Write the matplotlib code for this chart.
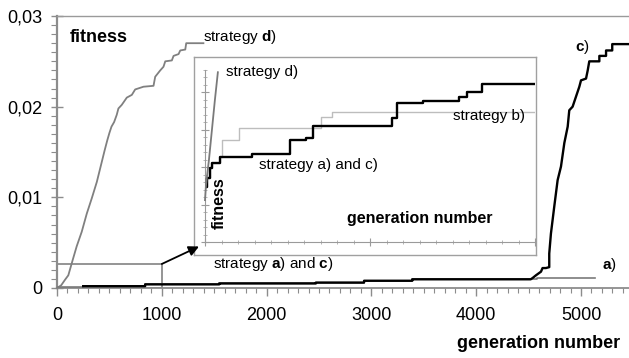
import matplotlib
matplotlib.use("Agg")
import matplotlib.pyplot as plt
from matplotlib.ticker import MultipleLocator, FixedLocator, NullFormatter
from matplotlib.patches import Rectangle

plt.rcParams['font.family'] = ['Liberation Sans', 'DejaVu Sans']
plt.rcParams['mathtext.fontset'] = 'custom'
plt.rcParams['mathtext.rm'] = 'Liberation Sans'
plt.rcParams['mathtext.bf'] = 'Liberation Sans:bold'

# ---------------- main chart data ----------------
d_gen = [0, 40, 76, 108, 150, 188, 236, 284, 332, 380, 425, 455, 480, 500, 520, 545, 570,
         586, 618, 666, 714, 746, 825, 921, 937, 985, 1016, 1033, 1096, 1112, 1160, 1176,
         1224, 1233, 1397]
d_fit = [0, 0.0003, 0.0009, 0.0014, 0.0031, 0.0046, 0.0062, 0.0082, 0.0099, 0.0117, 0.0138,
         0.0152, 0.0163, 0.0171, 0.0178, 0.0183, 0.0191, 0.0198, 0.0202, 0.0210, 0.0213,
         0.0219, 0.0222, 0.0223, 0.0233, 0.0240, 0.0244, 0.0250, 0.0251, 0.0256, 0.0258,
         0.0262, 0.0263, 0.0270, 0.0270]

a_gen = [0, 250, 841, 1548, 2470, 2930, 3390, 4580, 5130]
a_fit = [0.0001, 0.0002, 0.0004, 0.0005, 0.0006, 0.0008, 0.00096, 0.00114, 0.00114]

c_gen = [250, 841, 841, 1548, 1548, 2470, 2470, 2930, 2930, 3390, 3390, 4520, 4538, 4570,
         4618, 4633, 4665, 4697, 4697, 4713, 4745, 4777, 4809, 4841, 4873, 4888, 4920, 4952,
         4984, 5000, 5048, 5064, 5079, 5175, 5175, 5239, 5239, 5298, 5298, 5470]
c_fit = [0.0002, 0.0002, 0.0004, 0.0004, 0.0005, 0.0005, 0.0006, 0.0006, 0.0008, 0.0008,
         0.00096, 0.00096, 0.0011, 0.0014, 0.0018, 0.0022, 0.0022, 0.0023, 0.0038, 0.0060,
         0.0090, 0.0119, 0.0134, 0.0160, 0.0178, 0.0196, 0.0200, 0.0211, 0.0222, 0.0229,
         0.0231, 0.0240, 0.0250, 0.0250, 0.0256, 0.0256, 0.0262, 0.0262, 0.0269, 0.0269]

zoom_box_gen = 1000
zoom_box_fit = 0.00265

x_ticks = [0, 1000, 2000, 3000, 4000, 5000]
x_ticklabels = ['0', '1000', '2000', '3000', '4000', '5000']
y_ticks = [0, 0.01, 0.02, 0.03]
y_ticklabels = ['0', '0,01', '0,02', '0,03']

# ---------------- inset data ----------------
in_ac_gen = [0, 6, 15, 21, 45, 142, 257, 305, 326, 568, 583, 662, 770, 795, 840, 1000]
in_ac_fit = [0.00073, 0.00086, 0.00099, 0.00106, 0.00114, 0.00118, 0.00136, 0.00139,
             0.00155, 0.00166, 0.00186, 0.00189, 0.00194, 0.00201, 0.00211, 0.00211]
in_b_gen = [0, 6, 15, 21, 45, 51, 103, 353, 384, 1000]
in_b_fit = [0.00073, 0.00086, 0.00099, 0.00106, 0.00114, 0.00136, 0.00153, 0.00167,
            0.00174, 0.00174]
in_d_gen = [0, 3, 12, 21, 30, 39]
in_d_fit = [0.00056, 0.00076, 0.0011, 0.0015, 0.0019, 0.00227]

W, H = 629, 358
def fx(x):
    return x / W
def fy(y):
    return 1 - y / H

fig = plt.figure(figsize=(W / 100, H / 100), dpi=100)
fig.patch.set_facecolor('white')

# ---------------- main axes ----------------
ax = fig.add_axes([fx(57), fy(288), fx(629) - fx(57) + 0.002, fy(16) - fy(288)])
ax.set_xlim(0, 5470)
ax.set_ylim(0, 0.03)
spine_c = '#8c8c8c'
ax.spines['right'].set_visible(False)
ax.spines['left'].set_color(spine_c)
ax.spines['left'].set_linewidth(1.6)
ax.spines['bottom'].set_color(spine_c)
ax.spines['bottom'].set_linewidth(1.3)
ax.spines['top'].set_color('#9a9a9a')
ax.spines['top'].set_linewidth(1.0)

ax.xaxis.set_major_locator(FixedLocator(x_ticks))
ax.set_xticklabels(x_ticklabels)
ax.xaxis.set_minor_locator(MultipleLocator(100))
ax.yaxis.set_major_locator(FixedLocator(y_ticks))
ax.set_yticklabels(y_ticklabels)
ax.yaxis.set_minor_locator(MultipleLocator(0.001))
ax.tick_params(axis='both', which='major', labelsize=13, colors=spine_c, labelcolor='black')
ax.tick_params(axis='y', which='major', direction='inout', length=9, width=1.0, pad=6)
ax.tick_params(axis='y', which='minor', direction='out', length=4, width=0.8, colors=spine_c)
ax.tick_params(axis='x', which='major', direction='out', length=6, width=1.0, pad=8)
ax.tick_params(axis='x', which='minor', direction='out', length=3.5, width=0.8, colors=spine_c)

ax.plot(d_gen, d_fit, color='#808080', lw=1.3, clip_on=False, zorder=3)
ax.plot(a_gen, a_fit, color='#7a7a7a', lw=1.2, drawstyle='steps-post', zorder=3)
ax.plot(c_gen, c_fit, color='black', lw=1.7, zorder=4)
ax.add_patch(Rectangle((0, 0), zoom_box_gen, zoom_box_fit, fill=False,
                       edgecolor='#8c8c8c', lw=1.3, zorder=2))

# ---------------- inset frame ----------------
axf = fig.add_axes([fx(194), fy(255), fx(536) - fx(194), fy(57) - fy(255)])
axf.set_xticks([])
axf.set_yticks([])
axf.set_facecolor('white')
for s in axf.spines.values():
    s.set_color('#a0a0a0')
    s.set_linewidth(1.0)

axf.annotate('', xy=(fx(199), fy(246.5)), xycoords='figure fraction',
             xytext=(zoom_box_gen, zoom_box_fit), textcoords=ax.transData,
             arrowprops=dict(arrowstyle='-|>', color='black', lw=1.3,
                             mutation_scale=15, shrinkA=0, shrinkB=0),
             annotation_clip=False)

# ---------------- inset axes ----------------
axi = fig.add_axes([fx(205), fy(242), fx(535) - fx(205), fy(70) - fy(242)])
axi.patch.set_alpha(0)
axi.set_xlim(0, 1000)
axi.set_ylim(0, 0.0023)
axi.spines['top'].set_visible(False)
axi.spines['right'].set_visible(False)
axi.spines['left'].set_color('#9a9a9a')
axi.spines['bottom'].set_color('#9a9a9a')
axi.xaxis.set_major_locator(MultipleLocator(500))
axi.xaxis.set_minor_locator(MultipleLocator(50))
axi.yaxis.set_major_locator(MultipleLocator(0.0005))
axi.yaxis.set_minor_locator(MultipleLocator(0.0001))
axi.xaxis.set_major_formatter(NullFormatter())
axi.yaxis.set_major_formatter(NullFormatter())
axi.tick_params(which='major', direction='inout', length=6, width=0.8, colors='#9a9a9a')
axi.tick_params(which='minor', direction='inout', length=3.5, width=0.6, colors='#a8a8a8')

axi.plot(in_b_gen, in_b_fit, color='#bdbdbd', lw=1.0, drawstyle='steps-post', zorder=2)
axi.plot(in_ac_gen, in_ac_fit, color='black', lw=1.7, drawstyle='steps-post', zorder=3)
axi.plot(in_d_gen, in_d_fit, color='#7a7a7a', lw=1.3, zorder=4, clip_on=False)

# ---------------- texts ----------------
fig.text(fx(70), fy(37), 'fitness', fontsize=13, fontweight='bold', va='center', ha='left')
fig.text(fx(203), fy(37), r'strategy $\mathbf{d}$)', fontsize=11, va='center', ha='left')
fig.text(fx(575), fy(47), r'$\mathbf{c}$)', fontsize=11, va='center', ha='left')
fig.text(fx(602), fy(265), r'$\mathbf{a}$)', fontsize=11, va='center', ha='left')
fig.text(fx(213), fy(264), r'strategy $\mathbf{a}$) and $\mathbf{c}$)', fontsize=11,
         va='center', ha='left')
fig.text(fx(620), fy(343), 'generation number', fontsize=13, fontweight='bold',
         va='center', ha='right')

fig.text(fx(226), fy(72), 'strategy d)', fontsize=11, va='center', ha='left')
fig.text(fx(259), fy(165), 'strategy a) and c)', fontsize=11, va='center', ha='left')
fig.text(fx(453), fy(116), 'strategy b)', fontsize=11, va='center', ha='left')
fig.text(fx(347), fy(219), 'generation number', fontsize=11.5, fontweight='bold',
         va='center', ha='left')
fig.text(fx(219), fy(203), 'fitness', fontsize=11.5, fontweight='bold', rotation=90,
         va='center', ha='center')

fig.savefig('out.png', dpi=100, facecolor='white')
